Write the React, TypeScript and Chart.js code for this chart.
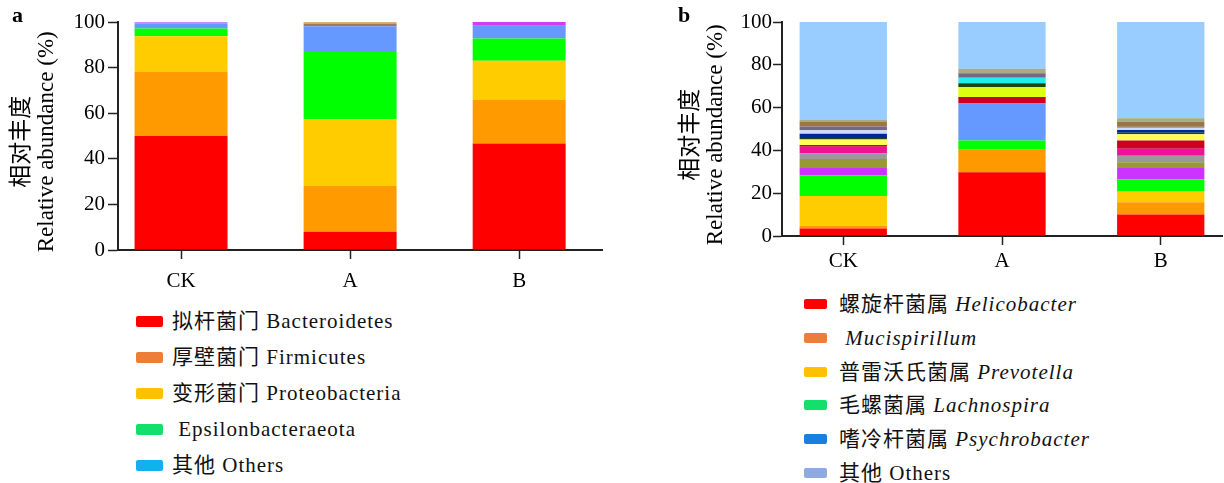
import React, { useEffect, useRef } from 'react';
import { Chart, registerables } from 'chart.js';

Chart.register(...registerables);

// ---------- data ----------
const groups = ['CK', 'A', 'B'];
const yTickValues = [0, 20, 40, 60, 80, 100];
const yTitle = ['相对丰度  ', 'Relative abundance (%)  '];

// Panel a: phylum level (%)
const bacteroidetes = [50.0, 8.0, 46.7];
const firmicutes = [28.3, 20.1, 19.1];
const proteobacteria = [15.4, 29.3, 17.2];
const epsilonbacteraeota = [3.5, 29.4, 9.8];
const phylumOthers = [2.2, 11.3, 5.6];
const phylumMinor1 = [0.6, 1.2, 1.6];
const phylumMinor2 = [0, 0.7, 0];

// Panel b: genus level (%)
const helicobacter = [3.5, 29.8, 10.0];
const mucispirillum = [1.3, 10.5, 5.8];
const prevotella = [13.9, 0, 5.2];
const lachnospira = [9.6, 4.3, 5.4];
const psychrobacter = [0, 17.3, 0];
const genus6 = [3.5, 0, 5.4];
const genus7 = [4.2, 0, 2.7];
const genus8 = [2.7, 0, 3.0];
const genus9 = [3.0, 0, 3.3];
const genus10 = [0.8, 3.1, 3.8];
const genus11 = [2.6, 0, 2.9];
const genus12 = [0, 4.6, 0];
const genus13 = [0.7, 1.8, 0.8];
const genus14 = [2.0, 0, 1.2];
const genus15 = [0, 2.5, 0];
const genus16 = [1.6, 0, 1.1];
const genus17 = [1.8, 2.1, 0.5];
const genus18 = [2.3, 0, 2.3];
const genus19 = [0.7, 2.1, 1.6];
const genusOthers = [45.8, 21.9, 45.0];

const legendA = [
  { color: '#FF0000', text: '拟杆菌门 Bacteroidetes' },
  { color: '#EE7D3A', text: '厚壁菌门 Firmicutes' },
  { color: '#FFC000', text: '变形菌门 Proteobacteria' },
  { color: '#12E06A', text: ' Epsilonbacteraeota' },
  { color: '#12B0F0', text: '其他 Others' },
];
const legendB = [
  { color: '#FF0000', cn: '螺旋杆菌属 ', latin: 'Helicobacter' },
  { color: '#EE7D3A', cn: ' ', latin: 'Mucispirillum' },
  { color: '#FFC000', cn: '普雷沃氏菌属 ', latin: 'Prevotella' },
  { color: '#12E06A', cn: '毛螺菌属 ', latin: 'Lachnospira' },
  { color: '#1A80E0', cn: '嗜冷杆菌属 ', latin: 'Psychrobacter' },
  { color: '#8FAADC', cn: '其他 Others', latin: '' },
];

const SERIF = "'Liberation Serif', 'Noto Sans CJK SC', serif";

function ds(label: string, values: number[], color: string | string[]) {
  return {
    label,
    data: values.map((v, i) => ({ x: i, y: v })),
    backgroundColor: color,
    borderWidth: 0,
  };
}

const datasetsA = () => [
  ds('Bacteroidetes', bacteroidetes, '#FF0000'),
  ds('Firmicutes', firmicutes, '#FF9A00'),
  ds('Proteobacteria', proteobacteria, '#FFCC00'),
  ds('Epsilonbacteraeota', epsilonbacteraeota, '#00FF00'),
  ds('Others', phylumOthers, '#6699FF'),
  ds('minor1', phylumMinor1, ['#C58CFF', '#9C7A5A', '#D23CF5']),
  ds('minor2', phylumMinor2, '#D8B27A'),
];

const datasetsB = () => [
  ds('Helicobacter', helicobacter, '#FF0000'),
  ds('Mucispirillum', mucispirillum, '#FF9900'),
  ds('Prevotella', prevotella, '#FFCC00'),
  ds('Lachnospira', lachnospira, '#00FF00'),
  ds('Psychrobacter', psychrobacter, '#6699FF'),
  ds('g6', genus6, '#CC33FF'),
  ds('g7', genus7, '#999933'),
  ds('g8', genus8, '#999999'),
  ds('g9', genus9, '#EE1199'),
  ds('g10', genus10, '#CC0022'),
  ds('g11', genus11, '#FFFF55'),
  ds('g12', genus12, '#DDFF11'),
  ds('g13', genus13, '#224411'),
  ds('g14', genus14, '#002699'),
  ds('g15', genus15, '#22EEEE'),
  ds('g16', genus16, '#C8DDFF'),
  ds('g17', genus17, '#776688'),
  ds('g18', genus18, '#99773F'),
  ds('g19', genus19, '#A8AA88'),
  ds('Others', genusOthers, '#99CCFF'),
];

type P = {
  xMin: number; xMax: number; yAxisWidth: number; xAxisHeight: number;
  padTop: number; padRight: number; titlePad: number; yTickLen: number;
  yTickPad: number; xTickPad: number;
};

function makeConfig(datasets: any[], p: P): any {
  return {
    type: 'bar',
    data: { datasets },
    options: {
      responsive: false,
      animation: false,
      devicePixelRatio: 1,
      layout: { padding: { left: 0, right: p.padRight, top: p.padTop, bottom: 0 } },
      plugins: { legend: { display: false }, tooltip: { enabled: false } },
      datasets: { bar: { categoryPercentage: 1, barPercentage: 0.55 } },
      scales: {
        x: {
          type: 'linear', min: p.xMin, max: p.xMax, stacked: true, offset: false,
          afterBuildTicks: (s: any) => { s.ticks = groups.map((_, i) => ({ value: i })); },
          afterFit: (s: any) => { s.height = p.xAxisHeight; },
          ticks: {
            callback: (v: any) => groups[v] ?? '',
            autoSkip: false, maxRotation: 0, minRotation: 0,
            padding: p.xTickPad, color: '#000',
            font: { family: SERIF, size: 21 },
          },
          grid: { offset: false, drawOnChartArea: false, drawTicks: true, tickLength: 9, tickColor: '#222', tickWidth: 1.5 },
          border: { display: true, color: '#222', width: 2 },
        },
        y: {
          type: 'linear', min: 0, max: 100, stacked: true,
          afterBuildTicks: (s: any) => { s.ticks = yTickValues.map((v) => ({ value: v })); },
          afterFit: (s: any) => { s.width = p.yAxisWidth; },
          ticks: { padding: p.yTickPad, color: '#000', font: { family: SERIF, size: 21 } },
          grid: { offset: false, drawOnChartArea: false, drawTicks: true, tickLength: p.yTickLen, tickColor: '#222', tickWidth: 1.5 },
          border: { display: true, color: '#222', width: 2 },
          title: {
            display: true, text: yTitle, color: '#000',
            font: { family: SERIF, size: 23, lineHeight: 1.1 },
            padding: { top: p.titlePad, bottom: 0 },
          },
        },
      },
    },
  };
}

function Panel({ left, width, height, datasets, p }: any) {
  const ref = useRef<HTMLCanvasElement>(null);
  useEffect(() => {
    if (!ref.current) return;
    const chart = new Chart(ref.current, makeConfig(datasets(), p));
    return () => chart.destroy();
  }, []);
  return (
    <canvas
      ref={ref}
      width={width}
      height={height}
      style={{ position: 'absolute', left, top: 0, width, height }}
    />
  );
}

export default function App() {
  const textStyle: React.CSSProperties = {
    fontFamily: SERIF, fontSize: 21, letterSpacing: '1px', color: '#111', whiteSpace: 'pre',
    lineHeight: '24px',
  };
  return (
    <div style={{ position: 'absolute', left: 0, top: 0, width: 1224, height: 483, background: '#fff', overflow: 'hidden' }}>
      <Panel
        left={0} width={620} height={300} datasets={datasetsA}
        p={{ xMin: -0.373, xMax: 2.49, yAxisWidth: 118, xAxisHeight: 50, padTop: 22, padRight: 18, titlePad: 9, yTickLen: 10, yTickPad: 3, xTickPad: 10 }}
      />
      <Panel
        left={660} width={564} height={290} datasets={datasetsB}
        p={{ xMin: -0.386, xMax: 2.386, yAxisWidth: 122, xAxisHeight: 54, padTop: 22, padRight: 2, titlePad: 18, yTickLen: 9, yTickPad: 1, xTickPad: 4 }}
      />
      <div style={{ position: 'absolute', left: 12, top: 4, fontFamily: SERIF, fontWeight: 'bold', fontSize: 22, lineHeight: '22px' }}>a</div>
      <div style={{ position: 'absolute', left: 678, top: 4, fontFamily: SERIF, fontWeight: 'bold', fontSize: 22, lineHeight: '22px' }}>b</div>
      {legendA.map((it, i) => (
        <div key={'a' + i} style={{ position: 'absolute', left: 136, top: 321 + 36 * i - 12, height: 24, display: 'flex', alignItems: 'center' }}>
          <div style={{ width: 27, height: 11, background: it.color, borderRadius: 2 }} />
          <div style={{ ...textStyle, marginLeft: 9 }}>{it.text}</div>
        </div>
      ))}
      {legendB.map((it, i) => (
        <div key={'b' + i} style={{ position: 'absolute', left: 804, top: 304 + 33.8 * i - 12, height: 24, display: 'flex', alignItems: 'center' }}>
          <div style={{ width: 23, height: 10, background: it.color, borderRadius: 2 }} />
          <div style={{ ...textStyle, marginLeft: 12 }}>
            {it.cn}
            {it.latin ? <i>{it.latin}</i> : null}
          </div>
        </div>
      ))}
    </div>
  );
}
